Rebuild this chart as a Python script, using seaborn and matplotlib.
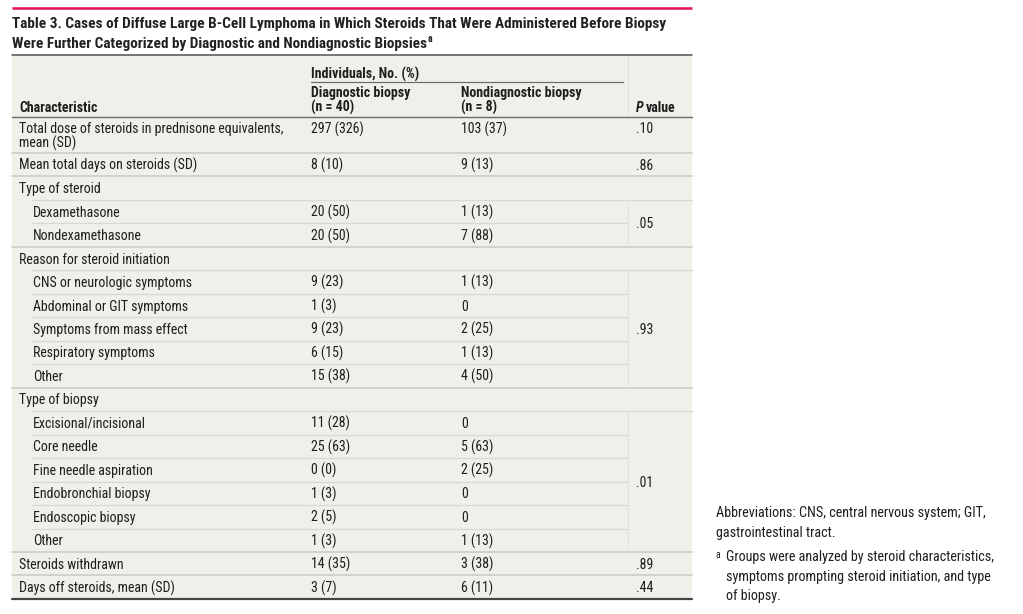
import matplotlib
matplotlib.use("Agg")
import matplotlib.pyplot as plt
from matplotlib import font_manager
import seaborn as sns

# table content
title_lines = [
    "Table 3. Cases of Diffuse Large B-Cell Lymphoma in Which Steroids That Were Administered Before Biopsy",
    "Were Further Categorized by Diagnostic and Nondiagnostic Biopsies",
]
group_header = "Individuals, No. (%)"
col_headers = ["Characteristic", "Diagnostic biopsy\n(n = 40)", "Nondiagnostic biopsy\n(n = 8)", "P value"]

characteristics = [
    "Total dose of steroids in prednisone equivalents,\nmean (SD)",
    "Mean total days on steroids (SD)",
    "Type of steroid",
    "Dexamethasone",
    "Nondexamethasone",
    "Reason for steroid initiation",
    "CNS or neurologic symptoms",
    "Abdominal or GIT symptoms",
    "Symptoms from mass effect",
    "Respiratory symptoms",
    "Other",
    "Type of biopsy",
    "Excisional/incisional",
    "Core needle",
    "Fine needle aspiration",
    "Endobronchial biopsy",
    "Endoscopic biopsy",
    "Other",
    "Steroids withdrawn",
    "Days off steroids, mean (SD)",
]
diagnostic = ["297 (326)", "8 (10)", "", "20 (50)", "20 (50)", "", "9 (23)", "1 (3)", "9 (23)",
              "6 (15)", "15 (38)", "", "11 (28)", "25 (63)", "0 (0)", "1 (3)", "2 (5)", "1 (3)",
              "14 (35)", "3 (7)"]
nondiagnostic = ["103 (37)", "9 (13)", "", "1 (13)", "7 (88)", "", "1 (13)", "0", "2 (25)",
                 "1 (13)", "4 (50)", "", "0", "5 (63)", "2 (25)", "0", "0", "1 (13)",
                 "3 (38)", "6 (11)"]
# 0 = top-level row, 1 = indented sub-row
indent = [0, 0, 0, 1, 1, 0, 1, 1, 1, 1, 1, 0, 1, 1, 1, 1, 1, 1, 0, 0]
# p values: (first row, last row, text)
p_values = [(0, 0, ".10"), (1, 1, ".86"), (3, 4, ".05"), (6, 10, ".93"),
            (12, 17, ".01"), (18, 18, ".89"), (19, 19, ".44")]

footnote_abbrev = ["Abbreviations: CNS, central nervous system; GIT,", "gastrointestinal tract."]
footnote_a = ["Groups were analyzed by steroid characteristics,",
              "symptoms prompting steroid initiation, and type", "of biopsy."]

sns.set_theme(style="white")


def pick_font(names):
    for n in names:
        try:
            font_manager.findfont(n, fallback_to_default=False)
            return n
        except Exception:
            pass
    return "DejaVu Sans"


FONT = pick_font(["Liberation Sans Narrow", "DejaVu Sans Condensed", "Roboto Condensed", "Liberation Sans"])
plt.rcParams["font.family"] = [FONT, "DejaVu Sans"]

W, H = 1023, 614
fig = plt.figure(figsize=(W / 100, H / 100), dpi=100)
ax = fig.add_axes([0, 0, 1, 1])
ax.set_xlim(0, W)
ax.set_ylim(H, 0)
ax.axis("off")

TXT = "#1e1e1e"
BG = "#f0efe9"
X0, X1 = 12, 692
XP_LINE = 628
X_CHAR, X_SUB, X_DIAG, X_NON, X_P = 19, 33, 311, 461, 636
FS = 10.0
FS_TITLE = 10.95
FS_NOTE = 10.2
PX = 72 / 100  # px -> pt
BL = "baseline"

# pink rule and title
ax.plot([X0, X1], [8, 8], color="#e0195c", lw=2.6 * PX, solid_capstyle="butt")
ax.text(X0, 28, title_lines[0], fontsize=FS_TITLE, fontweight="bold", color="#222222", va=BL)
t2 = ax.text(X0, 48, title_lines[1], fontsize=FS_TITLE, fontweight="bold", color="#222222", va=BL)
fig.canvas.draw()
bb = t2.get_window_extent()
ax.text(bb.x1 + 0.5, 42, "a", fontsize=7, fontweight="bold", color="#222222", va=BL)

# table background
top, head_bot = 55, 117
row_h = [36] + [23.47] * 19
bounds = [head_bot]
for h in row_h:
    bounds.append(bounds[-1] + h)
ax.add_patch(plt.Rectangle((X0, top), X1 - X0, bounds[-1] - top, color=BG, zorder=0, lw=0))

# header
ax.text(X_DIAG, 78.5, group_header, fontsize=FS, fontweight="semibold", color=TXT, va=BL)
ax.plot([X_DIAG, 623], [82, 82], color="#6a6a6a", lw=1.2 * PX)
ax.text(X_CHAR, 111.5, col_headers[0], fontsize=FS, fontweight="semibold", color=TXT, va=BL)
for x, lab in [(X_DIAG, col_headers[1]), (X_NON, col_headers[2])]:
    l1, l2 = lab.split("\n")
    ax.text(x, 97.5, l1, fontsize=FS, fontweight="semibold", color=TXT, va=BL)
    ax.text(x, 111.5, l2, fontsize=FS, fontweight="semibold", color=TXT, va=BL)
tp = ax.text(X_P, 111.5, "P", fontsize=FS, fontweight="semibold", fontstyle="italic", color=TXT, va=BL)
fig.canvas.draw()
pb = tp.get_window_extent()
ax.text(pb.x1 + 2.5, 111.5, "value", fontsize=FS, fontweight="semibold", color=TXT, va=BL)

# rows
for i, name in enumerate(characteristics):
    y_top, y_bot = bounds[i], bounds[i + 1]
    lines = name.split("\n")
    if len(lines) == 1:
        yb = (y_top + y_bot) / 2 + 5
    else:
        yb = y_top + 16.3
    x = X_SUB if indent[i] else X_CHAR
    for k, ln in enumerate(lines):
        ax.text(x, yb + k * 14.3, ln, fontsize=FS, color=TXT, va=BL)
    ax.text(X_DIAG, yb, diagnostic[i], fontsize=FS, color=TXT, va=BL)
    ax.text(X_NON, yb, nondiagnostic[i], fontsize=FS, color=TXT, va=BL)

for a, b, txt in p_values:
    if a == 0:
        yb = bounds[0] + 16.3
    else:
        yb = (bounds[a] + bounds[b + 1]) / 2 + 5
    ax.text(X_P, yb, txt, fontsize=FS, color=TXT, va=BL)

# row separators
merged = [(a, b) for a, b, _ in p_values if b > a]
for i in range(1, len(characteristics)):
    y = bounds[i]
    if indent[i] and indent[i - 1]:
        ax.plot([X_SUB - 1, XP_LINE], [y, y], color="#d9d8d1", lw=1.3 * PX)
    elif indent[i]:
        ax.plot([X_SUB - 1, X1], [y, y], color="#d9d8d1", lw=1.3 * PX)
    else:
        ax.plot([X0, X1], [y, y], color="#cfcec7", lw=1.8 * PX)

# faint vertical border of the P value column
ax.plot([XP_LINE, XP_LINE], [top, head_bot], color="#e2e1da", lw=1.0 * PX)
for a, b in merged:
    ax.plot([XP_LINE, XP_LINE], [bounds[a], bounds[b + 1]], color="#e2e1da", lw=1.0 * PX)

# main rules
ax.plot([X0, X1], [top, top], color="#5a5a5a", lw=1.6 * PX)
ax.plot([X0, X1], [head_bot, head_bot], color="#6a6a6a", lw=1.4 * PX)
ax.plot([X0, X1], [bounds[-1], bounds[-1]], color="#444444", lw=2.2 * PX)

# footnotes
fx = 716
for k, ln in enumerate(footnote_abbrev):
    ax.text(fx, 517.5 + k * 19.3, ln, fontsize=FS_NOTE, color=TXT, va=BL)
ax.text(fx, 558, "a", fontsize=7, color=TXT, va=BL)
for k, ln in enumerate(footnote_a):
    ax.text(fx + 10, 561.5 + k * 19.3, ln, fontsize=FS_NOTE, color=TXT, va=BL)

fig.savefig("out.png", dpi=100, facecolor="white")
